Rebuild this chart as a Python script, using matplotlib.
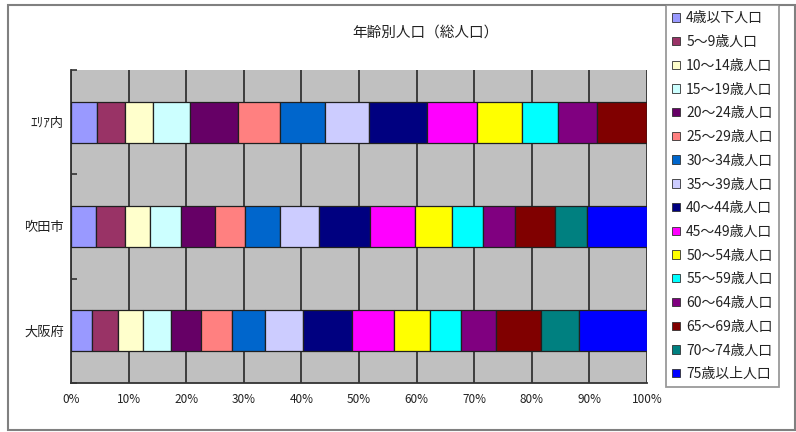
import matplotlib
matplotlib.use("Agg")
import matplotlib.pyplot as plt
from matplotlib.patches import Rectangle, Patch
import numpy as np

plt.rcParams['font.family'] = ['Noto Sans CJK JP', 'DejaVu Sans']

title = "年齢別人口（総人口）"
categories = ["ｴﾘｱ内", "吹田市", "大阪府"]
age_groups = ["4歳以下人口", "5～9歳人口", "10～14歳人口", "15～19歳人口", "20～24歳人口",
              "25～29歳人口", "30～34歳人口", "35～39歳人口", "40～44歳人口", "45～49歳人口",
              "50～54歳人口", "55～59歳人口", "60～64歳人口", "65～69歳人口", "70～74歳人口",
              "75歳以上人口"]
# percentage share per age group, one list per area (ｴﾘｱ内, 吹田市, 大阪府)
area_in = [4.55, 4.74, 4.91, 6.38, 8.39, 7.23, 7.83, 7.69, 10.07, 8.75, 7.82, 6.18, 6.78, 8.68, 0.0, 0.0]
suita = [4.38, 4.91, 4.46, 5.39, 5.90, 5.09, 6.07, 6.84, 8.80, 7.82, 6.54, 5.32, 5.63, 6.82, 5.61, 10.42]
osaka = [3.68, 4.45, 4.34, 4.81, 5.33, 5.32, 5.80, 6.53, 8.59, 7.21, 6.32, 5.39, 6.07, 7.82, 6.53, 11.81]
xtick_labels = ["0%", "10%", "20%", "30%", "40%", "50%", "60%", "70%", "80%", "90%", "100%"]

colors = ["#9999FF", "#993366", "#FFFFCC", "#CCFFFF", "#660066", "#FF8080", "#0066CC", "#CCCCFF",
          "#000080", "#FF00FF", "#FFFF00", "#00FFFF", "#800080", "#800000", "#008080", "#0000FF"]

W, H = 796, 432
fig = plt.figure(figsize=(W / 100, H / 100), dpi=100)
fig.patch.set_facecolor("white")

# outer chart frame
fig.add_artist(Rectangle((8 / W, 1 - 430 / H), (W - 9) / W, (430 - 5) / H,
                         transform=fig.transFigure, fill=False, edgecolor="#808080", linewidth=1.5))

ax = fig.add_axes([71 / W, 1 - 383 / H, (647 - 71) / W, (383 - 70) / H])
ax.set_facecolor("#C0C0C0")

data = np.array([area_in, suita, osaka])
totals = data.sum(axis=1, keepdims=True)
shares = data / totals * 100
ypos = np.array([2, 1, 0])
left = np.zeros(len(categories))
handles = []
for i, name in enumerate(age_groups):
    ax.barh(ypos, shares[:, i], left=left, height=0.39, color=colors[i],
            edgecolor="#202020", linewidth=0.9, zorder=3)
    left += shares[:, i]
    handles.append(Patch(facecolor=colors[i], edgecolor="#303030", linewidth=0.6, label=name))

ax.set_xlim(0, 100)
ax.set_ylim(-0.5, 2.5)
ax.set_xticks(np.arange(0, 101, 10))
ax.set_xticklabels(xtick_labels, fontsize=8.5, color="#222222")
ax.tick_params(axis="x", length=0, pad=7)
ax.set_yticks(ypos)
ax.set_yticklabels(categories, fontsize=9.5, color="#222222")
ax.tick_params(axis="y", which="major", length=0, pad=5)
ax.set_yticks([-0.5, 0.5, 1.5, 2.5], minor=True)
ax.tick_params(axis="y", which="minor", direction="in", length=4, width=1.2, color="#333333")
ax.xaxis.grid(True, color="#333333", linewidth=1.3, zorder=1)
ax.set_axisbelow(True)
for s in ["top", "right"]:
    ax.spines[s].set_visible(False)
for s in ["left", "bottom"]:
    ax.spines[s].set_color("#333333")
    ax.spines[s].set_linewidth(1.3)

fig.text(425 / W, 1 - 33 / H, title, ha="center", va="center", fontsize=10.5, color="#222222")

leg = fig.legend(handles=handles, loc="upper left", bbox_to_anchor=(666 / W, 1 - 5 / H),
                 fontsize=10, frameon=True, fancybox=False, handlelength=0.55, handleheight=0.55,
                 handletextpad=0.45, labelspacing=0.7, borderpad=0.45, borderaxespad=0)
leg.get_frame().set_edgecolor("#808080")
leg.get_frame().set_linewidth(1.3)
for t in leg.get_texts():
    t.set_color("#222222")

fig.savefig("out.png", dpi=100)
